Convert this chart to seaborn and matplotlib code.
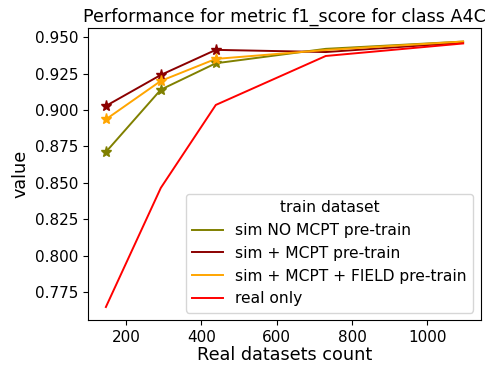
import numpy as np
import pandas as pd
import matplotlib
matplotlib.use("Agg")
import matplotlib.pyplot as plt
import seaborn as sns

counts = [146, 292, 438, 730, 1095]
series_names = ["sim NO MCPT pre-train", "sim + MCPT pre-train",
                "sim + MCPT + FIELD pre-train", "real only"]
sim_no_mcpt = [0.8712, 0.9140, 0.9321, 0.9420, 0.9470]
sim_mcpt = [0.9028, 0.9241, 0.9413, 0.9398, 0.9463]
sim_mcpt_field = [0.8936, 0.9200, 0.9351, 0.9412, 0.9470]
real_only = [0.7648, 0.8466, 0.9035, 0.9371, 0.9457]
colors = ["olive", "darkred", "orange", "red"]
star_points = 3  # pre-trained series marked with stars at first points
yticks = [0.775, 0.800, 0.825, 0.850, 0.875, 0.900, 0.925, 0.950]
xticks = [200, 400, 600, 800, 1000]

rows = []
for name, vals in zip(series_names, [sim_no_mcpt, sim_mcpt, sim_mcpt_field, real_only]):
    for c, v in zip(counts, vals):
        rows.append({"Real datasets count": c, "value": v, "train dataset": name})
df = pd.DataFrame(rows)
palette = dict(zip(series_names, colors))

fig, ax = plt.subplots(figsize=(4.89, 3.65), dpi=100)
fig.subplots_adjust(left=0.18, right=0.9836, bottom=0.1225, top=0.9225)

sns.lineplot(data=df, x="Real datasets count", y="value", hue="train dataset",
             palette=palette, ax=ax, linewidth=1.4)

stars = df[(df["train dataset"] != "real only") &
           (df["Real datasets count"].isin(counts[:star_points]))]
for name in series_names[:3]:
    sub = stars[stars["train dataset"] == name]
    ax.plot(sub["Real datasets count"], sub["value"], linestyle="none",
            marker="*", markersize=8, color=palette[name])

ax.set_title("Performance for metric f1_score for class A4C", fontsize=12.6, pad=5)
ax.set_xlabel("Real datasets count", fontsize=12.7, labelpad=1)
ax.set_ylabel("value", fontsize=12.7)
ax.tick_params(labelsize=11)
ax.set_yticks(yticks)
ax.set_yticklabels([f"{t:.3f}" for t in yticks])
ax.set_xticks(xticks)
leg = ax.legend(title="train dataset", loc="lower right", fontsize=11.2, title_fontsize=11.2)

fig.savefig("out.png", dpi=100)
